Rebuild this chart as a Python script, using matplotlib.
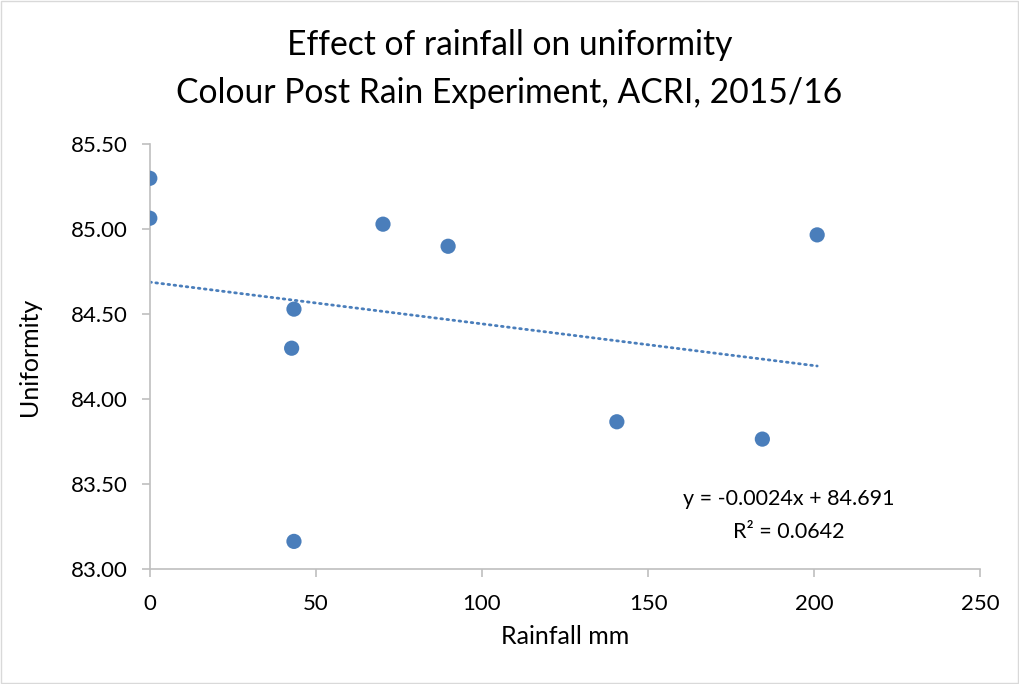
import matplotlib.pyplot as plt
import numpy as np
from matplotlib.ticker import FormatStrFormatter

plt.rcParams['font.family'] = ['Lato', 'DejaVu Sans']

# 数据
rainfall = [0, 0, 42.7, 43.4, 43.4, 70.2, 89.8, 140.6, 184.4, 200.9]
uniformity = [85.30, 85.065, 84.30, 84.53, 83.163, 85.03, 84.90, 83.867, 83.765, 84.967]

title_lines = ["Effect of rainfall on uniformity", "Colour Post Rain Experiment, ACRI, 2015/16"]
eq_text = "y = -0.0024x + 84.691\nR² = 0.0642"
x_ticks = [0, 50, 100, 150, 200, 250]
y_ticks = [83.0, 83.5, 84.0, 84.5, 85.0, 85.5]

blue = "#4a7ebb"
grey = "#bfbfbf"

fig = plt.figure(figsize=(10.19, 6.84), dpi=100)
ax = fig.add_axes([0.147, 0.168, 0.815, 0.621])

ax.scatter(rainfall, uniformity, s=120, color=blue, zorder=3, edgecolors='none')

# 线性趋势线
k, b = np.polyfit(rainfall, uniformity, 1)
xs = np.array([min(rainfall), max(rainfall)])
ax.plot(xs, k * xs + b, color=blue, lw=2, linestyle=(0, (0.6, 1.6)),
        dash_capstyle='round', zorder=2)

ax.text(0.769, 0.126, eq_text, transform=ax.transAxes, ha='center', va='center',
        fontsize=15.5, linespacing=1.85)

ax.set_xlim(0, 250)
ax.set_ylim(83.0, 85.5)
ax.set_xticks(x_ticks)
ax.set_yticks(y_ticks)
ax.yaxis.set_major_formatter(FormatStrFormatter('%.2f'))

for s in ['top', 'right']:
    ax.spines[s].set_visible(False)
for s in ['left', 'bottom']:
    ax.spines[s].set_color(grey)
    ax.spines[s].set_linewidth(1.2)
ax.tick_params(colors=grey, labelcolor='black', labelsize=16, length=6, width=1.2, direction='out')
ax.tick_params(axis='x', pad=12)
ax.tick_params(axis='y', pad=10)

ax.set_xlabel("Rainfall mm", fontsize=18, va='center')
ax.set_ylabel("Uniformity", fontsize=18, va='center')
ax.xaxis.set_label_coords(0.5, -0.158)
ax.yaxis.set_label_coords(-0.145, 0.5)

fig.text(0.5, 0.934, title_lines[0], ha='center', va='center', fontsize=24.2)
fig.text(0.5, 0.864, title_lines[1], ha='center', va='center', fontsize=24.2)

fig.patches.append(plt.Rectangle((0.001, 0.001), 0.998, 0.998, transform=fig.transFigure,
                                 fill=False, edgecolor='#d9d9d9', lw=1))

fig.savefig("out.png", dpi=100)
